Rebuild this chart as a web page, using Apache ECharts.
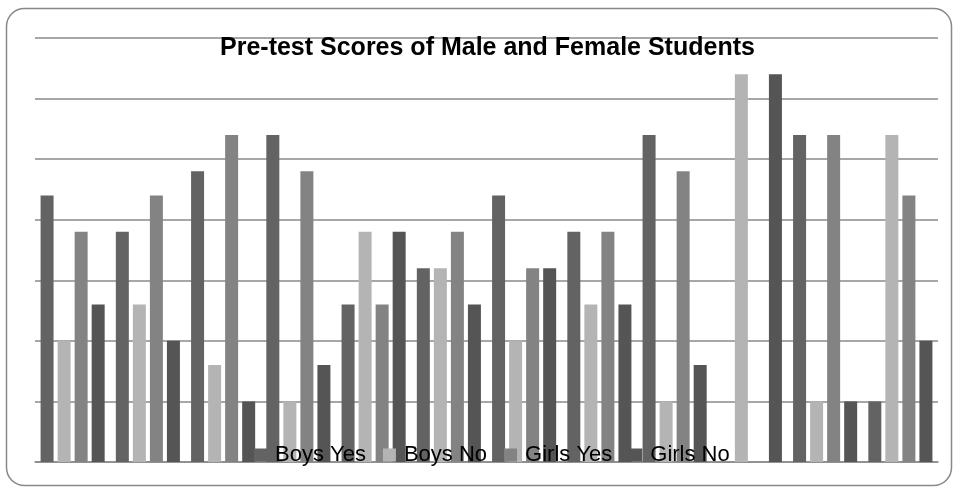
<!DOCTYPE html>
<html>
<head>
<meta charset="utf-8">
<script src="https://cdn.jsdelivr.net/npm/echarts@6/dist/echarts.min.js"></script>
<style>
  html, body { margin: 0; padding: 0; background: #fff; }
  #chart { width: 955px; height: 487px; }
</style>
</head>
<body>
<div id="chart"></div>
<script>
// 12 groups, no labels shown on the axis
const categories = ["1", "2", "3", "4", "5", "6", "7", "8", "9", "10", "11", "12"];
const seriesNames = ["Boys Yes", "Boys No", "Girls Yes", "Girls No"];
const boysYes  = [22, 19, 24, 27, 13, 16, 22, 19, 27, 0, 27, 5];
const boysNo   = [10, 13, 8, 5, 19, 16, 10, 13, 5, 32, 5, 27];
const girlsYes = [19, 22, 27, 24, 13, 19, 16, 19, 24, 0, 27, 22];
const girlsNo  = [13, 10, 5, 8, 19, 13, 16, 13, 8, 32, 5, 10];
const colors = ["#636363", "#b4b4b4", "#838383", "#555555"];

const chart = echarts.init(document.getElementById("chart"));
const font = "'Liberation Sans', Arial, sans-serif";

const allData = [boysYes, boysNo, girlsYes, girlsNo];
const series = allData.map((d, i) => ({
    name: seriesNames[i],
    type: "bar",
    data: d,
    barWidth: 13,
    barGap: "31%",
    itemStyle: { color: colors[i] },
    emphasis: { disabled: true }
}));

const option = {
    animation: false,
    color: colors,
    title: {
        text: "Pre-test Scores of Male and Female Students",
        left: 220,
        top: 36,
        padding: 0,
        textStyle: { fontFamily: font, fontSize: 25, fontWeight: "bold", color: "#000" }
    },
    legend: {
        data: seriesNames,
        left: 254,
        top: 444,
        padding: 0,
        icon: "rect",
        itemWidth: 13,
        itemHeight: 13,
        itemGap: 17,
        textStyle: { fontFamily: font, fontSize: 22, color: "#000", padding: [0, 0, 0, 3] }
    },
    grid: { left: 35, right: 17, top: 38, bottom: 25, containLabel: false },
    xAxis: {
        type: "category",
        data: categories,
        axisLine: { show: true, lineStyle: { color: "#8a8a8a", width: 1.5 } },
        axisTick: { show: false },
        axisLabel: { show: false }
    },
    yAxis: {
        type: "value",
        min: 0,
        max: 35,
        interval: 5,
        axisLabel: { show: false },
        axisLine: { show: false },
        axisTick: { show: false },
        splitLine: { lineStyle: { color: "#8a8a8a", width: 1.5 } }
    },
    graphic: [{
        type: "rect",
        shape: { x: 6.5, y: 8.5, width: 945, height: 477, r: 18 },
        style: { fill: "none", stroke: "#888", lineWidth: 1.5 },
        silent: true
    }],
    series: series
};

chart.setOption(option);
window.addEventListener("resize", chart.resize);
</script>
</body>
</html>
